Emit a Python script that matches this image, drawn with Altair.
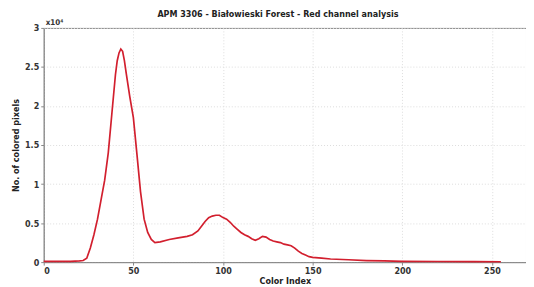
import altair as alt
import pandas as pd

color_index = [0, 5, 10, 15, 20, 22, 24, 26, 28, 30, 32, 34, 36, 38, 40, 41, 42, 43, 44, 45, 46,
               48, 50, 52, 54, 56, 58, 60, 62, 65, 70, 75, 80, 83, 86, 88, 90, 92, 94, 96, 98,
               100, 102, 104, 106, 108, 110, 112, 114, 116, 118, 120, 122, 124, 126, 128, 130,
               132, 134, 136, 138, 140, 142, 144, 146, 148, 150, 155, 160, 170, 180, 190, 200,
               220, 240, 255]
pixels = [100, 100, 100, 100, 150, 200, 500, 1800, 3500, 5500, 8000, 10500, 14000, 19000, 24000,
          25800, 26800, 27300, 27000, 25800, 24200, 21200, 18500, 13800, 9000, 5500, 3800, 2900,
          2500, 2600, 2900, 3100, 3300, 3500, 4000, 4600, 5200, 5700, 5900, 6000, 6000, 5700,
          5500, 5100, 4600, 4200, 3800, 3500, 3300, 3000, 2800, 3000, 3300, 3200, 2900, 2700,
          2600, 2500, 2300, 2200, 2100, 1800, 1400, 1100, 900, 700, 600, 500, 400, 300, 200,
          150, 100, 80, 60, 50]

y_ticks = [0, 5000, 10000, 15000, 20000, 25000, 30000]
x_ticks = [0, 50, 100, 150, 200, 250]
title_text = "APM 3306 - Białowieski Forest - Red channel analysis"
exponent_text = "x10\u2074"

df = pd.DataFrame({"ci": color_index, "n": pixels})

FONT = "Liberation Sans Narrow, DejaVu Sans Condensed, DejaVu Sans"

line = alt.Chart(df).mark_line(color="#d21f2e", strokeWidth=1.7).encode(
    x=alt.X("ci:Q", scale=alt.Scale(domain=[0, 269], nice=False),
            axis=alt.Axis(values=x_ticks, title="Color Index", titleFontSize=9,
                          titleFontWeight="bold", titlePadding=2, labelFontSize=9,
                          labelFontWeight="bold", grid=True, gridDash=[1, 2],
                          gridColor="#dddddd", tickSize=3, labelPadding=1)),
    y=alt.Y("n:Q", scale=alt.Scale(domain=[0, 30000], nice=False),
            axis=alt.Axis(values=y_ticks, title="No. of colored pixels", titleFontSize=9,
                          titleFontWeight="bold", titlePadding=4, labelFontSize=9,
                          labelFontWeight="bold", labelExpr="datum.value / 10000",
                          grid=True, gridDash=[1, 2], gridColor="#dddddd",
                          tickSize=3, labelPadding=2)),
)

expo = alt.Chart(pd.DataFrame({"t": [exponent_text]})).mark_text(
    align="left", baseline="bottom", fontSize=8, fontWeight="bold", font=FONT, color="#333"
).encode(x=alt.value(2), y=alt.value(-1), text="t:N")

title = alt.Chart(pd.DataFrame({"t": [title_text]})).mark_text(
    align="center", baseline="bottom", fontSize=9, fontWeight="bold", font=FONT, color="#222"
).encode(x=alt.value(236), y=alt.value(-9), text="t:N")

chart = (line + expo + title).properties(
    width=486, height=236,
    autosize=alt.AutoSizeParams(type="none"),
    padding={"left": 36, "top": 19, "right": 0, "bottom": 24},
).configure_view(stroke="#888", strokeWidth=1).configure_axis(
    labelFont=FONT, titleFont=FONT, labelColor="#333", titleColor="#222",
    domainColor="#888", tickColor="#888"
)

chart.save("out.html", embed_options={"renderer": "svg", "actions": False})
